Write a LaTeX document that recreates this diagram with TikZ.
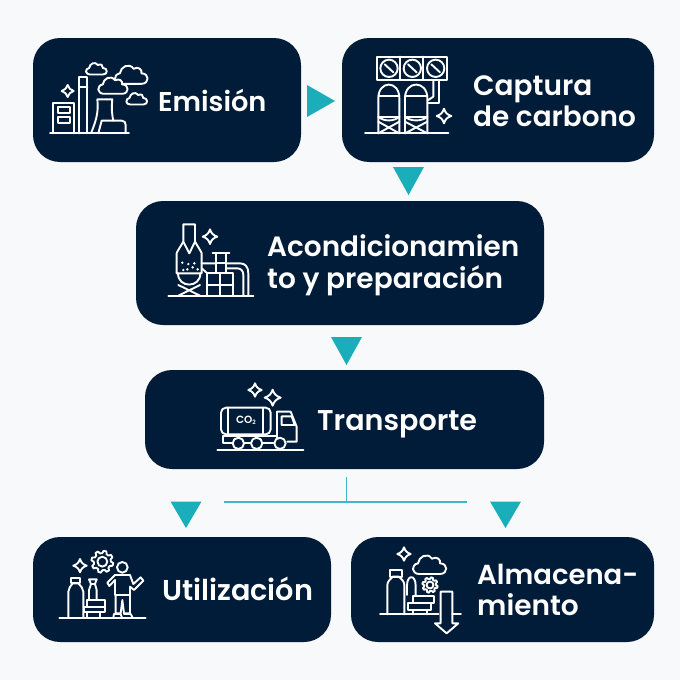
\documentclass[tikz,border=0pt]{standalone}
\usepackage{fontspec}
\newfontfamily\pop{Poppins SemiBold}
\definecolor{navy}{HTML}{011C38}
\definecolor{teal2}{HTML}{1AADBA}
\definecolor{bgc}{HTML}{F8F9FA}
\newcommand{\fz}[1]{\fontsize{#1}{31}\selectfont}
\tikzset{
 box/.style={fill=navy,draw=none,rounded corners=27pt,inner sep=0pt},
 lbl/.style={text=white,font=\pop\fontsize{28}{31}\selectfont,anchor=base west,inner sep=0pt},
 tri/.style={fill=teal2,draw=none},
 conn/.style={draw=teal2!85!white,line width=1.8pt},
 icon/.style={draw=white,line width=1.9pt,line join=round,line cap=round},
 iconf/.style={icon,fill=navy},
 cloudp/.pic={\draw[iconf] (-.32,.3) .. controls (-.56,.3) and (-.58,.02) .. (-.36,-.02) .. controls (-.34,-.22) and (-.08,-.36) .. (.06,-.16) .. controls (.2,-.24) and (.33,-.14) .. (.3,-.02) .. controls (.55,-.02) and (.55,.3) .. (.3,.3) -- cycle;},
 sparkp/.pic={\draw[icon] (0,-1) .. controls (.18,-.45) and (.45,-.18) .. (1,0) .. controls (.45,.18) and (.18,.45) .. (0,1) .. controls (-.18,.45) and (-.45,.18) .. (-1,0) .. controls (-.45,-.18) and (-.18,-.45) .. (0,-1) -- cycle;},
 gearp/.pic={\draw[icon] (0:.78) \foreach \a in {0,45,...,315}{ -- (\a+0:.78) -- (\a+7:1) -- (\a+22:1) -- (\a+29:.78) -- (\a+45:.78)} -- cycle; \draw[icon] (0,0) circle (.45);},
}
\begin{document}
\begin{tikzpicture}[x=1pt,y=-1pt]
\useasboundingbox (0,0) rectangle (680,680);
\fill[bgc] (0,0) rectangle (680,680);
% boxes
\node[box,minimum width=268pt,minimum height=124pt] (emi) at (167,100) {};
\node[box,minimum width=312pt,minimum height=124pt] (cap) at (498,100) {};
\node[box,minimum width=408pt,minimum height=124pt] (aco) at (340,263) {};
\node[box,minimum width=399pt,minimum height=99pt] (tra) at (344.5,419.5) {};
\node[box,minimum width=298pt,minimum height=105pt] (uti) at (182,589.5) {};
\node[box,minimum width=303pt,minimum height=105pt] (alm) at (502.5,589.5) {};
% triangles
\fill[tri] (307,85) -- (335,101) -- (307,117) -- cycle;
\fill[tri] (393,167) -- (424,167) -- (408.5,195) -- cycle;
\fill[tri] (331,337) -- (362,337) -- (346.5,365) -- cycle;
\fill[tri] (170.5,501.5) -- (201.5,501.5) -- (186,528) -- cycle;
\fill[tri] (490,501.5) -- (521,501.5) -- (505.5,528) -- cycle;
% connector
\coordinate (jl) at (224,502);
\coordinate (jr) at (467,502);
\coordinate (jt) at (346.5,477);
\coordinate (jm) at (346.5,502);
\draw[conn] (jl) -- (jr);
\draw[conn] (jt) -- (jm);
% labels
\node[lbl] (t1) at (158,111) {\fz{27.2}Emisión};
\node[lbl] (t2a) at (473,95) {Captura};
\node[lbl] (t2b) at (473,126) {\fz{27.9}de carbono};
\node[lbl] (t3a) at (267,256) {\fz{27.9}Acondicionamien};
\node[lbl] (t3b) at (267,288) {to y preparación};
\node[lbl] (t4) at (317,430) {\fz{28.6}Transporte};
\node[lbl] (t5) at (162,600) {\fz{28.7}Utilización};
\node[lbl] (t6a) at (477,584) {\fz{27.5}Almacena-};
\node[lbl] (t6b) at (477,615) {miento};
% icon 1
\begin{scope}[shift={(30,30)},scale=1/3]
\draw[icon] (60,310) -- (297,310);
\draw[icon] (70,310) -- (70,218) -- (132,218) -- (132,310);
\draw[icon] (85,232) rectangle (120,248);
\draw[icon] (85,262) rectangle (120,278);
\draw[icon] (148,310) -- (148,142) -- (172,142) -- (172,310);
\draw[icon] (148,172) -- (172,172);
\draw[icon] (183,310) .. controls (195,280) and (207,250) .. (202,208) -- (247,208) .. controls (244,235) and (246,255) .. (250,272);
\draw[icon] (205,310) -- (215,272) -- (275,272) .. controls (284,272) and (287,278) .. (287,285) -- (287,310);
\pic[scale=6] at (113,183) {sparkp};
\pic[scale=20.7] at (200,115) {cloudp};
\pic[scale=32.7] at (305,132) {cloudp};
\pic[scale=29.3] at (250,165) {cloudp};
\pic[scale=20.7] at (321,205) {cloudp};
\end{scope}
% icon 2
\begin{scope}[shift={(340,30)},scale=1/3]
\draw[icon] (75,310) -- (325,310);
\draw[icon] (110,80) rectangle (320,150);
\draw[icon] (180,80) -- (180,150) (250,80) -- (250,150);
\foreach \c in {147,217,287}{
 \draw[icon] (\c,115) circle (26);
 \draw[icon] (\c-13,103) -- (\c+13,127);
}
\draw[icon] (280,150) -- (280,200) -- (265,210);
\draw[icon] (296,150) -- (296,218) -- (265,218);
\foreach \l/\r in {115/178,195/262}{
 \draw[icon] (\l,310) -- (\l,205) .. controls (\l,150) and (\r,150) .. (\r,205) -- (\r,310);
 \draw[icon] (\l,198) -- (\r,198);
 \draw[icon] (\l,260) -- (\r,260);
 \draw[icon] (\l,275) -- (\r,310) (\r,275) -- (\l,310);
 \draw[icon] (\l,260) .. controls (\l+15,275) and (\r-15,275) .. (\r,260);
}
\pic[scale=7.3] at (312,258) {sparkp};
\end{scope}
% icon 3
\begin{scope}[shift={(150,210)},scale=1/3]
\draw[icon] (55,257) -- (310,257);
\draw[icon] (100,43) -- (135,43) -- (135,95) -- (118,130) -- (100,95) -- cycle;
\draw[icon] (100,95) -- (82,125) -- (80,130) -- (80,190) -- (155,190) -- (155,130) -- (153,125) -- (135,95);
\draw[icon] (84,190) .. controls (84,235) and (151,235) .. (151,190);
\draw[icon] (85,257) -- (150,225) (150,257) -- (85,225);
\foreach \x/\y in {97/158,115/162,128/172,143/178,100/180,112/178,133/160}{\fill[white] (\x,\y) circle (4);}
\draw[icon] (188,128) -- (238,128);
\draw[icon] (197,128) rectangle (228,190);
\draw[icon] (197,160) -- (228,160);
\draw[icon] (172,190) rectangle (250,257);
\draw[icon] (211,190) -- (211,257) (172,225) -- (250,225);
\draw[icon] (155,160) -- (197,160) (228,160) -- (270,160) .. controls (285,160) and (295,170) .. (295,190) -- (295,257);
\draw[icon] (155,175) -- (172,190) (228,175) -- (262,175) .. controls (272,175) and (280,182) .. (280,195) -- (280,257);
\pic[scale=7.3] at (180,80) {sparkp};
\end{scope}
% icon 4
\begin{scope}[shift={(200,375)},scale=1/3]
\draw[icon] (52,224) -- (310,224);
\draw[icon,rounded corners=5pt] (63,98) rectangle (212,178);
\draw[icon] (85,98) -- (85,178) (190,98) -- (190,178);
\node[text=white,font=\pop\fontsize{10.5}{11}\selectfont,inner sep=0pt] (co2) at (138,137) {CO\raisebox{-1pt}{\fontsize{6}{6}\selectfont 2}};
\draw[icon] (68,183) rectangle (230,203);
\draw[icon] (232,110) -- (272,110) -- (290,155) -- (290,200) -- (262,200);
\draw[icon] (232,110) -- (232,183);
\draw[icon] (245,124) -- (275,124) -- (284,150) -- (245,150) -- cycle;
\foreach \c in {115,170,240}{\draw[iconf] (\c,205) circle (17);}
\pic[scale=6.7] at (165,45) {sparkp};
\pic[scale=8] at (218,68) {sparkp};
\end{scope}
% icon 5
\begin{scope}[shift={(50,540)},scale=1/3]
\draw[icon] (28,233) -- (287,233);
\draw[icon] (55,233) -- (55,155) .. controls (55,145) and (62,138) .. (68,130) -- (85,130) .. controls (92,138) and (100,145) .. (100,155) -- (100,233);
\draw[icon] (62,115) rectangle (90,130);
\draw[icon] (117,180) -- (117,150) -- (123,132) -- (135,132) -- (140,150) -- (140,180);
\draw[icon] (117,118) -- (140,118) -- (135,132) (117,118) -- (123,132);
\draw[icon] (110,180) rectangle (165,200);
\draw[icon] (102,200) rectangle (165,217);
\draw[icon] (112,217) -- (112,233) (150,217) -- (150,233);
\pic[scale=11] at (157,65) {gearp};
\pic[scale=6.7] at (90,77) {sparkp};
\draw[icon] (217,82) circle (16);
\draw[icon] (195,165) -- (195,120) -- (178,138) -- (172,128) -- (195,105) -- (240,105) -- (250,132) -- (272,112) -- (280,122) -- (252,150) -- (240,140) -- (240,165) -- cycle;
\draw[icon] (197,165) -- (197,220) -- (212,220) -- (217,180) -- (222,220) -- (240,220) -- (240,165);
\draw[icon] (190,233) -- (192,222) -- (212,222) -- (216,233);
\draw[icon] (222,222) -- (242,222) -- (248,233);
\end{scope}
% icon 6
\begin{scope}[shift={(375,535)},scale=1/3]
\draw[icon] (15,238) -- (190,238) (232,238) -- (258,238);
\draw[icon] (37,238) -- (37,150) .. controls (37,138) and (48,132) .. (53,125) -- (72,125) .. controls (78,132) and (88,138) .. (88,150) -- (88,238);
\draw[icon] (45,104) rectangle (80,125);
\draw[icon] (96,180) -- (96,152) .. controls (96,118) and (122,118) .. (122,152) -- (122,183);
\draw[icon] (115,183) rectangle (178,205);
\draw[icon] (100,205) rectangle (168,225);
\draw[icon] (115,225) -- (115,238) (155,225) -- (155,238);
\pic[scale=7.7] at (165,150) {gearp};
\pic[scale=33.3] at (165,87) {cloudp};
\pic[scale=6.7] at (87,57) {sparkp};
\draw[icon] (197,170) -- (232,170) -- (232,265) -- (250,265) -- (215,295) -- (180,265) -- (197,265) -- cycle;
\end{scope}
\end{tikzpicture}
\end{document}
